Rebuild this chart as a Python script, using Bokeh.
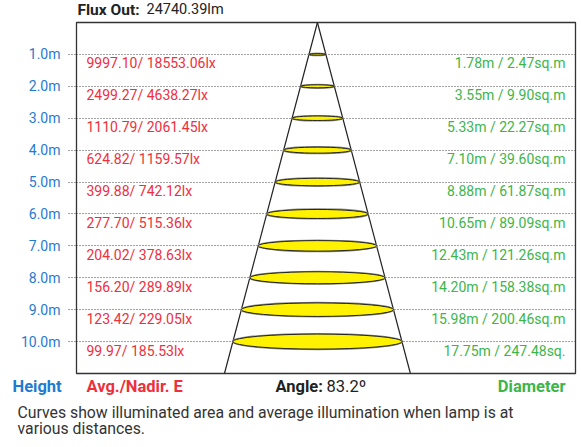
from bokeh.plotting import figure
from bokeh.models import Range1d, FixedTicker, PrintfTickFormatter
from bokeh.layouts import column
from bokeh.core.properties import value
from bokeh.embed import file_html
from bokeh.resources import INLINE

# ---- data ----
heights = [1.0, 2.0, 3.0, 4.0, 5.0, 6.0, 7.0, 8.0, 9.0, 10.0]
avg_lux = [9997.10, 2499.27, 1110.79, 624.82, 399.88, 277.70, 204.02, 156.20, 123.42, 99.97]
nadir_lux = [18553.06, 4638.27, 2061.45, 1159.57, 742.12, 515.36, 378.63, 289.89, 229.05, 185.53]
diameters = [1.78, 3.55, 5.33, 7.10, 8.88, 10.65, 12.43, 14.20, 15.98, 17.75]
areas = [2.47, 9.90, 22.27, 39.60, 61.87, 89.09, 121.26, 158.38, 200.46, 247.48]
flux_out = "24740.39lm"
beam_angle = "83.2º"
caption_lines = ["Curves show illuminated area and average illumination when lamp is at",
                 "various distances."]

lux_labels = [f"{a:.2f}/ {n:.2f}lx" for a, n in zip(avg_lux, nadir_lux)]
diam_labels = [f"{d:.2f}m / {s:.2f}sq.m" for d, s in zip(diameters, areas)]
diam_labels[-1] = diam_labels[-1][:-1]  # last label is clipped in the original

BLUE = "#1f7bd1"
RED = "#ee2f3c"
GREEN = "#3db54a"
DARK = "#222222"
FONT = value("Roboto")
W = 578

y_max = 11.0
x_lo, x_hi = -25.3, 27.1


def blank_fig(h):
    f = figure(width=W, height=h, x_range=Range1d(0, W), y_range=Range1d(h, 0),
               x_axis_type=None, y_axis_type=None, frame_align=False,
               output_backend="svg", toolbar_location=None,
               min_border_left=0, min_border_right=0, min_border_top=0, min_border_bottom=0)
    f.grid.visible = False
    f.outline_line_color = None
    f.background_fill_color = "white"
    f.border_fill_color = "white"
    return f


def txt(f, x, y, s, color, bold=False, size="14px", align="left"):
    f.text(x=[x], y=[y], text=[s], text_color=color, text_font=FONT, text_font_size=size,
           text_font_style="bold" if bold else "normal", text_align=align,
           text_baseline="middle")


# ---- header ----
top = blank_fig(21)
txt(top, 77, 9, "Flux Out:", DARK, bold=True, size="15.5px")
txt(top, 146, 9, flux_out, DARK, size="14.5px")

# ---- main chart ----
p = figure(width=W, height=354, x_range=Range1d(x_lo, x_hi), y_range=Range1d(y_max, 0),
           output_backend="svg", toolbar_location=None, frame_align=False,
           min_border_left=76, min_border_right=3, min_border_top=1, min_border_bottom=2)
p.outline_line_color = "#333333"
p.outline_line_width = 1.3
p.background_fill_color = "white"
p.border_fill_color = "white"

p.xaxis.visible = False
p.xgrid.visible = False

yax = p.yaxis[0]
yax.ticker = FixedTicker(ticks=heights)
yax.formatter = PrintfTickFormatter(format="%.1fm")
yax.axis_line_color = None
yax.major_tick_in = 0
yax.major_tick_out = 8
yax.major_tick_line_color = "#444444"
yax.major_tick_line_dash = "1 2"
yax.minor_tick_line_color = None
yax.major_label_standoff = 8
yax.major_label_text_color = BLUE
yax.major_label_text_font = "Roboto"
yax.major_label_text_font_size = "14px"

p.ygrid.ticker = FixedTicker(ticks=heights)
p.ygrid.grid_line_color = "#444444"
p.ygrid.grid_line_dash = "1 2"
p.ygrid.grid_line_width = 1

# cone edges from the beam slope
half_slope = diameters[-1] / 2 / heights[-1]
p.segment(x0=[0, 0], y0=[0, 0], x1=[-half_slope * y_max, half_slope * y_max], y1=[y_max, y_max],
          line_color=DARK, line_width=1.2)

# illuminated area ellipses
ell_h = [0.047 * h for h in heights]
p.ellipse(x=[0] * len(heights), y=heights, width=diameters, height=ell_h,
          fill_color="#fff200", line_color="#888888", line_width=2.2)
p.ellipse(x=[0] * len(heights), y=heights, width=diameters, height=ell_h,
          fill_color="#fff200", line_color=DARK, line_width=1)

p.text(x=[x_lo] * len(heights), y=heights, text=lux_labels, x_offset=10, y_offset=9,
       text_align="left", text_baseline="middle", text_font=FONT, text_font_size="14px",
       text_color=RED)
p.text(x=[x_hi] * len(heights), y=heights, text=diam_labels, x_offset=-10, y_offset=9,
       text_align="right", text_baseline="middle", text_font=FONT, text_font_size="14px",
       text_color=GREEN)

# ---- footer ----
bot = blank_fig(65)
txt(bot, 12, 10.5, "Height", BLUE, bold=True, size="16.5px")
txt(bot, 86, 10.5, "Avg./Nadir. E", RED, bold=True, size="16.5px")
txt(bot, 275, 10.5, "Angle:", DARK, bold=True, size="16.5px")
txt(bot, 326, 10.5, beam_angle, DARK, size="16.5px")
txt(bot, 565, 10.5, "Diameter", GREEN, bold=True, size="16.5px", align="right")
txt(bot, 17, 37, caption_lines[0], "#333333", size="15.8px")
txt(bot, 17, 53, caption_lines[1], "#333333", size="15.8px")

layout = column(top, p, bot, spacing=0)
open("out.html", "w").write(file_html(layout, INLINE))
